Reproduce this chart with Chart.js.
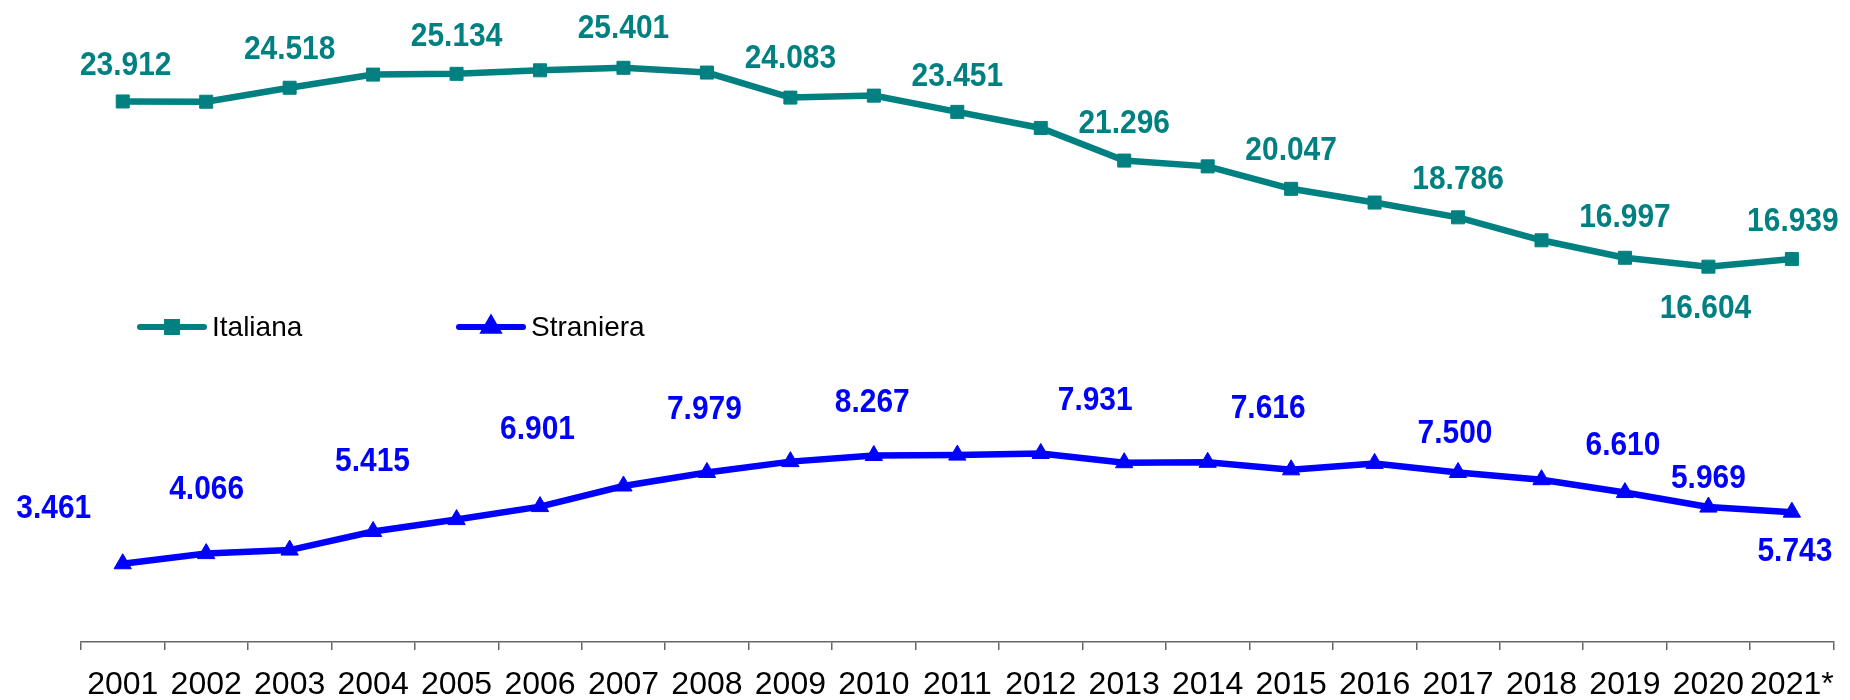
<!DOCTYPE html>
<html lang="it">
<head>
<meta charset="utf-8">
<title>Nati per cittadinanza 2001-2021</title>
<script src="https://cdn.jsdelivr.net/npm/chart.js@4.4.1/dist/chart.umd.min.js"></script>
<style>
  html, body { margin: 0; padding: 0; background: #fff; }
  #wrap { width: 1850px; height: 700px; position: relative; }
</style>
</head>
<body>
<div id="wrap"><canvas id="nati"></canvas></div>
<script>
// anni e valori delle due serie
const anni = ['2001', '2002', '2003', '2004', '2005', '2006', '2007', '2008', '2009', '2010',
  '2011', '2012', '2013', '2014', '2015', '2016', '2017', '2018', '2019', '2020', '2021*'];
const italiana = [23912, 23900, 24518, 25100, 25134, 25290, 25401, 25190, 24083, 24170,
  23451, 22740, 21296, 21040, 20047, 19440, 18786, 17770, 16997, 16604, 16939];
const straniera = [3461, 3910, 4066, 4890, 5415, 5990, 6901, 7500, 7979, 8250,
  8267, 8340, 7931, 7950, 7616, 7900, 7500, 7180, 6610, 5969, 5743];

const TEAL = '#008080';
const BLU = '#0000ff';
const FONT = "'Liberation Sans', Arial, sans-serif";

// numeri con il punto come separatore delle migliaia
function fmt(v) {
  return String(v).replace(/\B(?=(\d{3})+(?!\d))/g, '.');
}

// etichette dei valori: spostamento [dx, dy] rispetto al punto, solo dove c'è l'etichetta
const spostItaliana = {
  0: [3, -36], 2: [0, -38], 4: [0, -37], 6: [0, -39], 8: [0, -39], 10: [0, -35],
  12: [0, -37], 14: [0, -38], 16: [0, -38], 18: [0, -40], 19: [-3, 42], 20: [1, -37]
};
const spostStraniera = {
  0: [-69, -55], 2: [-83, -60], 4: [-84, -58], 6: [-86, -56], 8: [-86, -52], 10: [-85, -52],
  12: [-29, -62], 14: [-23, -61], 16: [-3, -39], 18: [-2, -47], 19: [0, -28], 20: [3, 39]
};

const etichetteValori = {
  id: 'etichetteValori',
  afterDatasetsDraw(chart, args, opts) {
    const ctx = chart.ctx;
    const sx = 0.88;
    ctx.save();
    // testo leggermente stretto in orizzontale
    ctx.scale(sx, 1);
    ctx.font = 'bold 34px ' + FONT;
    ctx.textAlign = 'center';
    ctx.textBaseline = 'middle';
    chart.data.datasets.forEach((ds, i) => {
      const spost = opts.spostamenti[i];
      const meta = chart.getDatasetMeta(i);
      ctx.fillStyle = ds.borderColor;
      meta.data.forEach((pt, j) => {
        const s = spost[j];
        if (!s || !isFinite(pt.x) || !isFinite(pt.y)) return;
        ctx.fillText(fmt(ds.data[j]), (pt.x + s[0]) / sx, pt.y + s[1]);
      });
    });
    ctx.restore();
  }
};

// legenda disegnata dentro l'area del grafico
const legendaInterna = {
  id: 'legendaInterna',
  afterDraw(chart, args, opts) {
    const ctx = chart.ctx;
    ctx.save();
    ctx.font = '28px ' + FONT;
    ctx.textBaseline = 'middle';
    chart.data.datasets.forEach((ds, i) => {
      const x = opts.x[i], y = opts.y;
      ctx.strokeStyle = ds.borderColor;
      ctx.lineWidth = 6;
      ctx.lineCap = 'round';
      ctx.beginPath();
      ctx.moveTo(x, y);
      ctx.lineTo(x + 64, y);
      ctx.stroke();
      ctx.fillStyle = ds.borderColor;
      Chart.helpers.drawPoint(ctx, {
        pointStyle: ds.pointStyle,
        radius: ds.pointStyle === 'triangle' ? 7.5 : 7,
        borderWidth: 1,
        rotation: 0
      }, x + 32, y);
      ctx.fillStyle = '#000';
      ctx.fillText(ds.label, x + 72, y + 1);
    });
    ctx.restore();
  }
};

new Chart(document.getElementById('nati'), {
  type: 'line',
  data: {
    labels: anni,
    datasets: [
      {
        label: 'Italiana',
        data: italiana,
        borderColor: TEAL,
        backgroundColor: TEAL,
        borderWidth: 6.5,
        pointStyle: 'rect',
        pointRadius: 9.2,
        pointBorderWidth: 1,
        tension: 0
      },
      {
        label: 'Straniera',
        data: straniera,
        borderColor: BLU,
        backgroundColor: BLU,
        borderWidth: 6.5,
        pointStyle: 'triangle',
        pointRadius: 10,
        pointBorderWidth: 1,
        tension: 0
      }
    ]
  },
  options: {
    responsive: true,
    maintainAspectRatio: false,
    animation: false,
    events: [],
    layout: { autoPadding: false, padding: { left: 81, right: 13, top: 0, bottom: 0 } },
    plugins: {
      legend: { display: false },
      tooltip: { enabled: false },
      etichetteValori: { spostamenti: [spostItaliana, spostStraniera] },
      legendaInterna: { x: [140, 459], y: 327 }
    },
    scales: {
      x: {
        offset: true,
        grid: { offset: true, drawOnChartArea: false, tickLength: 8, color: '#666', lineWidth: 1.5 },
        border: { color: '#666', width: 1.5 },
        ticks: { color: '#000', font: { family: FONT, size: 32 }, padding: 16, maxRotation: 0, autoSkip: false },
        afterFit(scale) { scale.height = 58; }
      },
      y: {
        display: false,
        min: 0,
        max: 28400
      }
    }
  },
  plugins: [etichetteValori, legendaInterna]
});
</script>
</body>
</html>
